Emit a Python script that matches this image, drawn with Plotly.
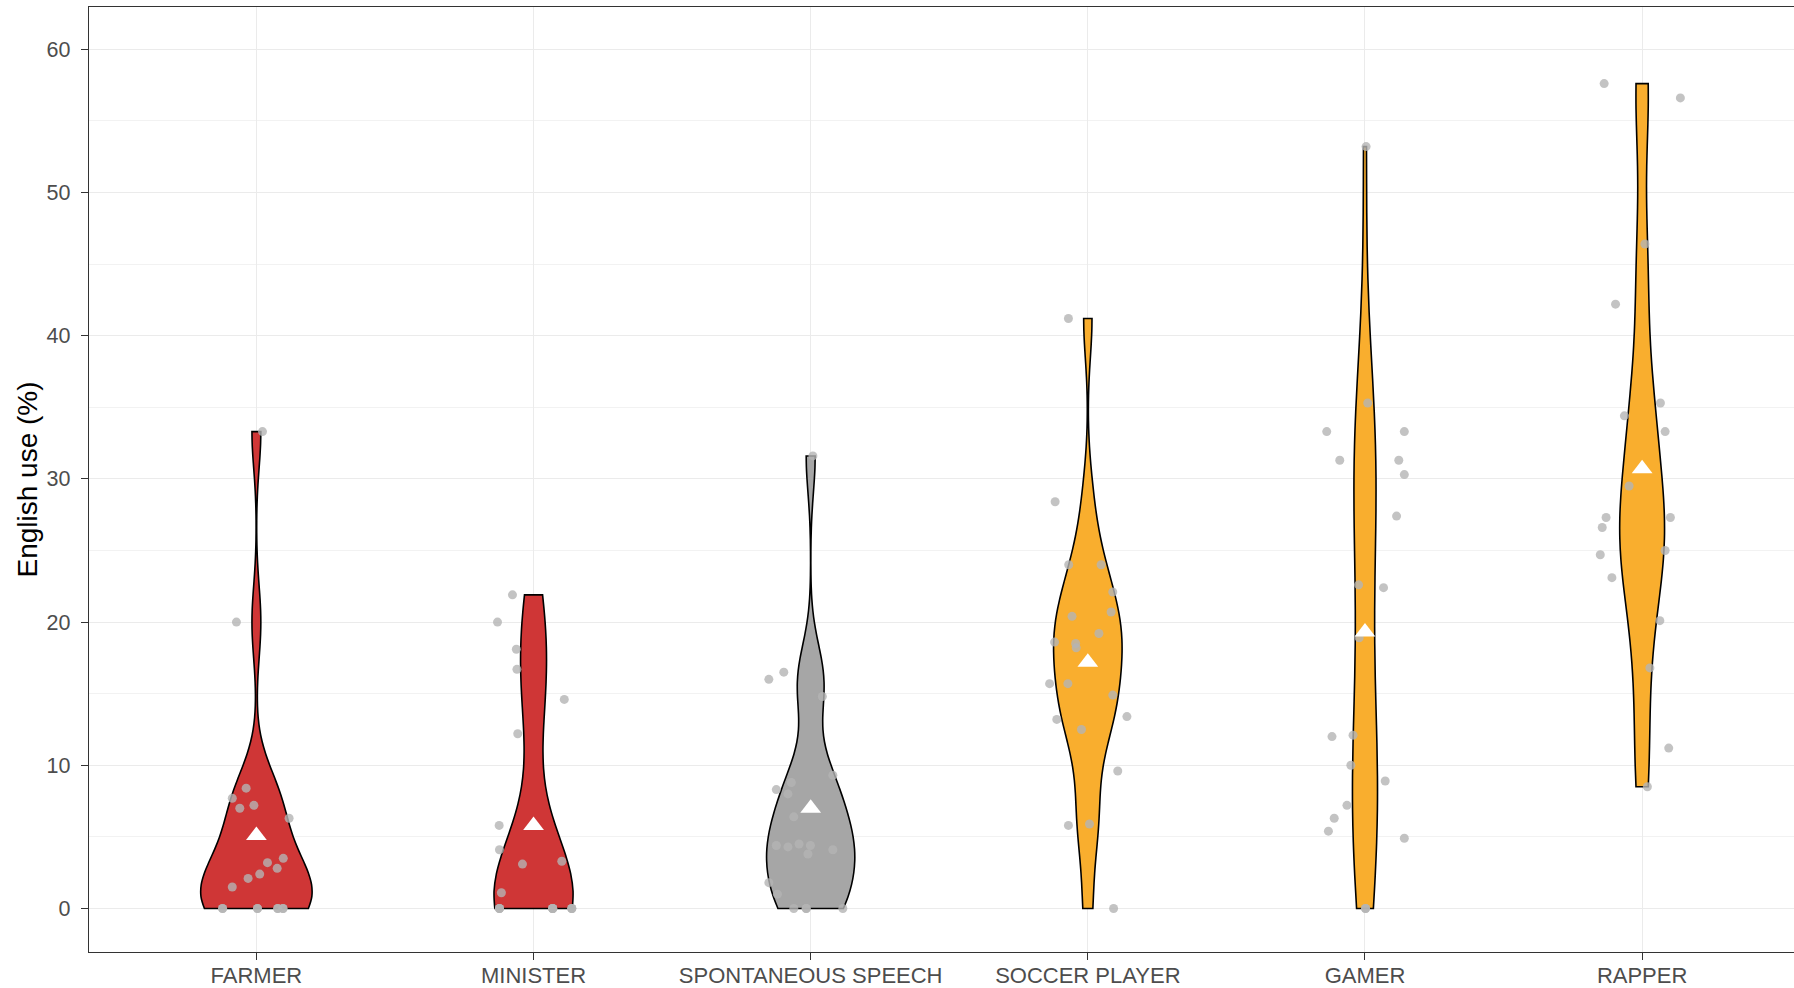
import numpy as np
import plotly.graph_objects as go

# ---- data -------------------------------------------------------------
categories = ["FARMER", "MINISTER", "SPONTANEOUS SPEECH",
              "SOCCER PLAYER", "GAMER", "RAPPER"]

farmer = [33.3, 20.0, 8.4, 7.7, 7.0, 7.2, 6.3, 3.5, 3.2, 2.8, 2.4, 2.1,
          1.5, 0.0, 0.0, 0.0, 0.0, 0.0, 0.0, 0.0, 0.0]
minister = [21.9, 20.0, 18.1, 16.7, 14.6, 12.2, 5.8, 4.1, 3.1, 3.3, 1.1,
            0.0, 0.0, 0.0, 0.0, 0.0, 0.0, 0.0, 0.0, 0.0, 0.0]
spontaneous = [31.6, 16.0, 16.5, 14.8, 9.3, 8.8, 8.3, 8.0, 6.4, 4.4, 4.3,
               4.5, 4.4, 3.8, 4.1, 1.8, 1.0, 0.0, 0.0, 0.0, 0.0]
soccer = [41.2, 28.4, 24.0, 24.0, 22.1, 20.4, 20.7, 19.2, 18.6, 18.5, 18.2,
          15.7, 15.7, 14.9, 13.2, 13.4, 12.5, 9.6, 5.8, 5.9, 0.0]
gamer = [53.2, 35.3, 33.3, 33.3, 31.3, 31.3, 30.3, 27.4, 22.6, 22.4, 18.9,
         12.0, 12.1, 10.0, 8.9, 7.2, 6.3, 5.4, 4.9, 0.0, 0.0]
rapper = [57.6, 56.6, 46.4, 42.2, 35.3, 34.4, 33.3, 29.5, 27.3, 27.3, 26.6,
          25.0, 24.7, 23.1, 20.1, 16.8, 11.2, 8.5]

# horizontal jitter of each point (in category units); several zero
# observations sit on top of one another
farmer_jitter = [0.022, -0.072, -0.037, -0.087, -0.060, -0.009, 0.118, 0.097,
                 0.040, 0.075, 0.012, -0.030, -0.087, -0.122, 0.004, 0.077,
                 0.096, -0.122, 0.004, 0.077, 0.096]
minister_jitter = [-0.076, -0.130, -0.062, -0.060, 0.111, -0.057, -0.124,
                   -0.123, -0.040, 0.102, -0.116, -0.123, 0.069, 0.138,
                   -0.123, 0.069, 0.138, -0.123, 0.069, 0.138, 0.069]
spontaneous_jitter = [0.008, -0.151, -0.097, 0.042, 0.080, -0.070, -0.124,
                      -0.082, -0.061, -0.124, -0.082, -0.042, -0.001, -0.010,
                      0.080, -0.151, -0.120, -0.061, -0.016, 0.116, -0.016]
soccer_jitter = [-0.070, -0.118, -0.069, 0.048, 0.090, -0.057, 0.084, 0.040,
                 -0.120, -0.044, -0.042, -0.138, -0.072, 0.090, -0.112, 0.141,
                 -0.023, 0.108, -0.070, 0.006, 0.093]
gamer_jitter = [0.004, 0.010, -0.138, 0.142, -0.091, 0.122, 0.142, 0.114,
                -0.023, 0.067, -0.021, -0.119, -0.043, -0.051, 0.073, -0.065,
                -0.111, -0.132, 0.142, 0.002, 0.002]
rapper_jitter = [-0.137, 0.138, 0.010, -0.096, 0.066, -0.064, 0.083, -0.047,
                 -0.130, 0.102, -0.144, 0.083, -0.151, -0.109, 0.064, 0.028,
                 0.096, 0.019]

group_means = [5.1, 5.8, 7.0, 17.2, 19.3, 30.7]

y_ticks = [0, 10, 20, 30, 40, 50, 60]

# ---- styling ----------------------------------------------------------
values = [farmer, minister, spontaneous, soccer, gamer, rapper]
jitters = [farmer_jitter, minister_jitter, spontaneous_jitter,
           soccer_jitter, gamer_jitter, rapper_jitter]
fills = ["#CF3636", "#CF3636", "#A6A6A6", "#F9AE2E", "#F9AE2E", "#F9AE2E"]
violin_widths = [0.40, 0.285, 0.318, 0.247, 0.09, 0.161]

FONT = "Liberation Sans, Arial, sans-serif"


def nrd0(v):
    """Silverman's rule of thumb (R's bw.nrd0)."""
    v = np.asarray(v, dtype=float)
    sd = v.std(ddof=1)
    q75, q25 = np.percentile(v, [75, 25])
    lo = min(sd, (q75 - q25) / 1.34)
    if lo <= 0:
        lo = sd if sd > 0 else 1.0
    return 0.9 * lo * len(v) ** -0.2


fig = go.Figure()

for i, (vals, fill, w) in enumerate(zip(values, fills, violin_widths)):
    fig.add_trace(go.Violin(
        x0=i, y=vals, orientation="v",
        width=w, scalemode="width", scalegroup=f"g{i}",
        spanmode="hard", bandwidth=nrd0(vals),
        fillcolor=fill, opacity=1,
        line=dict(color="black", width=1.6),
        points=False, box_visible=False, meanline_visible=False,
        hoverinfo="skip", showlegend=False,
    ))

for i, (vals, jit) in enumerate(zip(values, jitters)):
    fig.add_trace(go.Scatter(
        x=[i + j for j in jit], y=vals, mode="markers",
        marker=dict(size=9, color="rgba(180,180,180,0.8)", line=dict(width=0)),
        hoverinfo="skip", showlegend=False,
    ))

fig.add_trace(go.Scatter(
    x=list(range(len(categories))), y=group_means, mode="markers",
    marker=dict(symbol="triangle-up", size=18, color="white",
                line=dict(width=0)),
    hoverinfo="skip", showlegend=False,
))

fig.update_layout(
    width=1794, height=988,
    margin=dict(l=89, r=0, t=7, b=36),
    paper_bgcolor="white", plot_bgcolor="white",
    showlegend=False,
    violinmode="overlay",
    font=dict(family=FONT),
    xaxis=dict(
        range=[-0.604, 5.548],
        tickmode="array", tickvals=list(range(len(categories))),
        ticktext=categories,
        tickfont=dict(size=22, color="#4D4D4D", family=FONT),
        showgrid=True, gridcolor="#EBEBEB", gridwidth=1.2,
        zeroline=False,
        showline=True, mirror=True, linecolor="#333333", linewidth=1.4,
        ticks="outside", ticklen=7, tickcolor="#333333", tickwidth=1.2,
        ticklabelstandoff=-4,
        automargin=False,
    ),
    yaxis=dict(
        range=[-3.04, 62.95],
        tickmode="array", tickvals=y_ticks,
        tickfont=dict(size=21.5, color="#4D4D4D", family=FONT),
        showgrid=True, gridcolor="#EBEBEB", gridwidth=1.2,
        minor=dict(dtick=5, tick0=0, showgrid=True, gridcolor="#F2F2F2",
                   gridwidth=1, ticks=""),
        zeroline=False,
        showline=True, mirror=False, linecolor="#333333", linewidth=1.4,
        ticks="outside", ticklen=7, tickcolor="#333333", tickwidth=1.2,
        ticklabelstandoff=6,
        title=dict(text="English use (%)",
                   font=dict(size=28, color="black", family=FONT),
                   standoff=0),
        automargin=False,
    ),
)

fig.write_html("out.html")
